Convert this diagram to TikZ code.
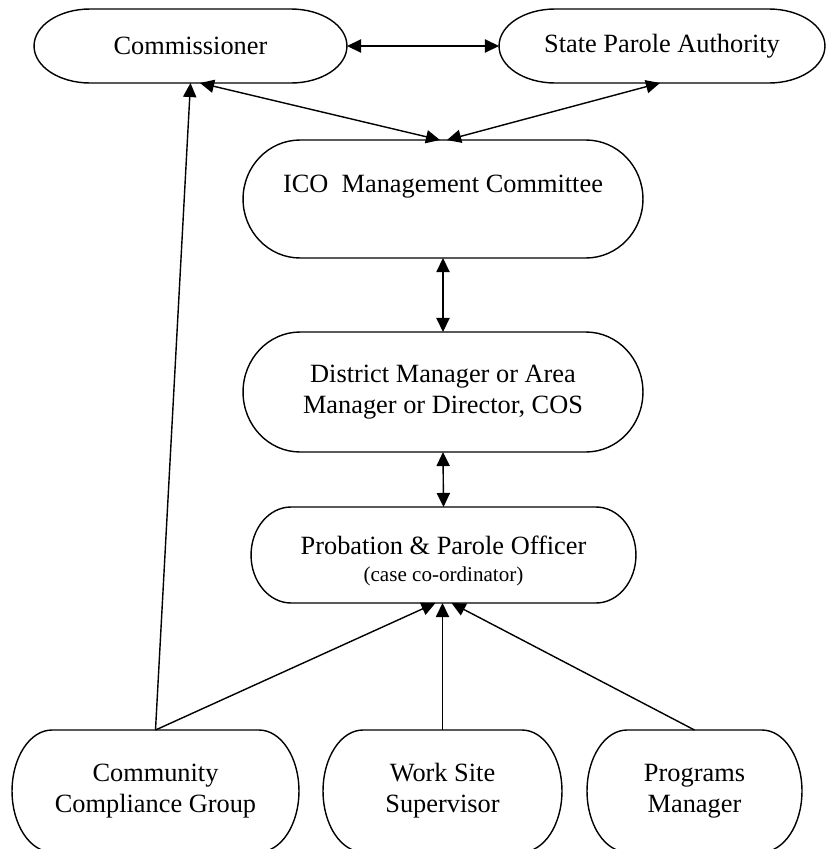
\documentclass[tikz,border=0pt]{standalone}
\usepackage{fontspec}
\setmainfont{Liberation Serif}
\usetikzlibrary{arrows.meta}

\begin{document}
\begin{tikzpicture}[x=0.02cm, y=-0.02cm, line width=0.8pt,
  >={Triangle[length=8pt,width=7.5pt]},
  every node/.style={align=center, inner sep=0pt, outer sep=0pt, font=\fontsize{15}{17.6}\selectfont},
  term/.style 2 args={minimum width=#1cm, minimum height=#2cm}]
\path[use as bounding box] (0,0) rectangle (826,849);
\clip (0,0) rectangle (826,849);

\node (comm) [term={6.26}{1.48}] at (190.5,46) {Commissioner};
\node (spa) [term={6.52}{1.48}] at (662,46) {State Parole Authority};
\node (ico) [term={8}{2.36}] at (443,199) {ICO\ \ Management Committee\\ ~};
\node (dist) [term={8}{2.4}] at (443,392) {District Manager or Area\\Manager or Director, COS};
\node (prob) [term={7.7}{1.92}] at (443.5,555) {\rule{0pt}{17pt}Probation \& Parole Officer\\[-2.3pt]{\fontsize{12}{14}\selectfont (case co-ordinator)}};
\node (ccg) [term={5.74}{2.44}] at (155.5,791) {Community\\Compliance Group};
\node (wss) [term={4.78}{2.44}] at (442.5,791) {Work Site\\Supervisor};
\node (pm) [term={4.3}{2.44}] at (694.5,791) {Programs\\Manager};

% outlines with elliptical ends
\foreach \n/\rx/\ry in {comm/1.12/0.74, spa/1.12/0.74, ico/1.14/1.18, dist/1.14/1.2,
    prob/0.8/0.96, ccg/0.8/1.22, wss/0.8/1.22, pm/0.8/1.22}
  \draw ([xshift=\rx cm]\n.north west) -- ([xshift=-\rx cm]\n.north east)
    arc[start angle=90, end angle=-90, x radius=\rx cm, y radius=\ry cm]
    -- ([xshift=\rx cm]\n.south west)
    arc[start angle=270, end angle=90, x radius=\rx cm, y radius=\ry cm] -- cycle;

\draw[<->] (comm.east) -- (spa.west);
\draw[<->] ([xshift=0.19cm]comm.south) -- ([xshift=-0.06cm]ico.north);
\draw[<->] ([xshift=-0.04cm]spa.south) -- ([xshift=0.08cm]ico.north);
\draw[<->] (ico.south) -- (dist.north);
\draw[<->] (dist.south) -- (prob.north);
\draw[->] (ccg.north) -- (comm.south);
\draw[->] (ccg.north) -- ([xshift=-0.16cm]prob.south);
\draw[->] (wss.north) -- (wss.north |- prob.south);
\draw[->] (pm.north) -- ([xshift=0.16cm]prob.south);
\end{tikzpicture}
\end{document}
